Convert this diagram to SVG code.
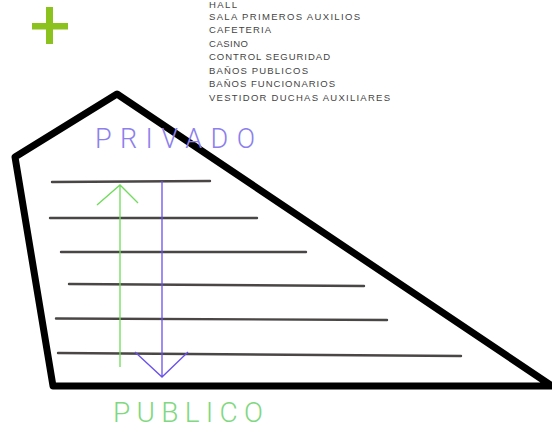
<svg xmlns="http://www.w3.org/2000/svg" width="552" height="430" viewBox="0 0 552 430">
<style>
.list{font-family:"Liberation Sans",Arial,sans-serif;font-size:9.5px;fill:#444}
.hl{stroke:#4a4646;stroke-width:2.4;stroke-linecap:round;fill:none}
.lbl{font-family:Roboto,"Liberation Sans",sans-serif;font-weight:300}
</style>
<rect width="552" height="430" fill="#fff"/>
<g id="plus" fill="#8cc21e">
<rect x="32" y="23" width="36" height="6.5"/>
<rect x="46" y="7" width="7" height="37"/>
</g>
<g id="list">
<text class="list" x="209" y="8" textLength="28" lengthAdjust="spacing">HALL</text>
<text class="list" x="209" y="20" textLength="151" lengthAdjust="spacing">SALA PRIMEROS AUXILIOS</text>
<text class="list" x="209" y="33" textLength="62" lengthAdjust="spacing">CAFETERIA</text>
<text class="list" x="209" y="46.5" textLength="39" lengthAdjust="spacing">CASINO</text>
<text class="list" x="209" y="60" textLength="121" lengthAdjust="spacing">CONTROL SEGURIDAD</text>
<text class="list" x="209" y="73.5" textLength="99" lengthAdjust="spacing">BAÑOS PUBLICOS</text>
<text class="list" x="209" y="87" textLength="126" lengthAdjust="spacing">BAÑOS FUNCIONARIOS</text>
<text class="list" x="209" y="100.5" textLength="181" lengthAdjust="spacing">VESTIDOR DUCHAS AUXILIARES</text>
</g>
<g id="building">
<polygon points="117,94 15,157 53,386 552,386" fill="none" stroke="#000" stroke-width="7" stroke-linejoin="round"/>
</g>
<g id="levels">
<line class="hl" x1="52" y1="182" x2="210" y2="181"/>
<line class="hl" x1="50" y1="218" x2="257" y2="218"/>
<line class="hl" x1="61" y1="252" x2="306" y2="252"/>
<line class="hl" x1="69" y1="284" x2="364" y2="286"/>
<line class="hl" x1="56" y1="318.5" x2="387" y2="320"/>
<line class="hl" x1="58" y1="353" x2="461" y2="356"/>
</g>
<g id="privado">
<text class="lbl" x="95" y="148" font-size="27" fill="#8c80ee" textLength="160" lengthAdjust="spacing">PRIVADO</text>
</g>
<g id="publico">
<text class="lbl" x="113" y="422" font-size="28" fill="#80d880" textLength="150" lengthAdjust="spacing">PUBLICO</text>
</g>
<g id="connectors" fill="none" stroke-width="1.3">
<path d="M120,367 V185 M97,205 L120,185 L138,203" stroke="#6fdc5a"/>
<path d="M162,181 V377 M135,352 L162,377 L188,352" stroke="#6a50ee"/>
</g>
</svg>
